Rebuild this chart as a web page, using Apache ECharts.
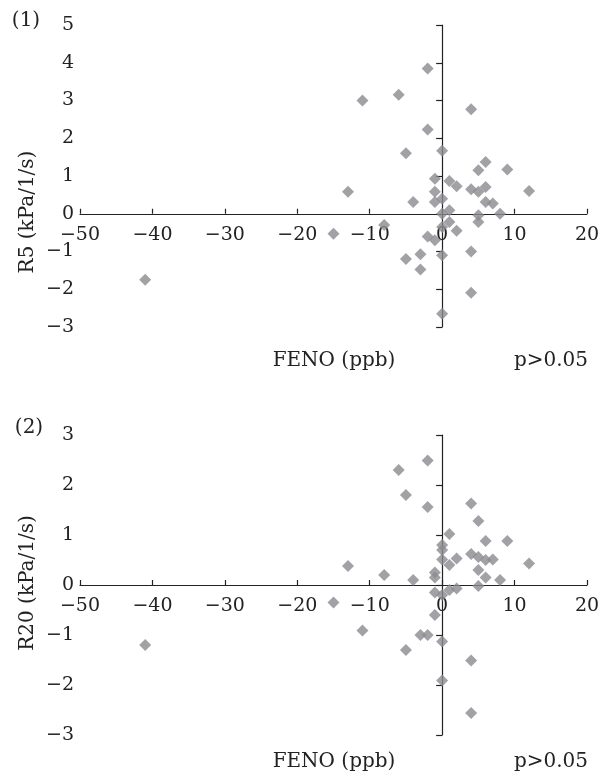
<!DOCTYPE html>
<html>
<head>
<meta charset="utf-8">
<script src="https://cdn.jsdelivr.net/npm/echarts@6/dist/echarts.min.js"></script>
<style>html,body{margin:0;padding:0;background:#fff}#c{width:608px;height:780px}</style>
</head>
<body>
<div id="c"></div>
<script>
// Panel (1): change in FENO vs change in R5
const r5X = [-11, -6, -2, 4, -2, -5, 0, 6, 5, 9, -1, 1, 2, -13, -1, 4, 5, 6, 12, -4, -1, 0, 6, 7, 0, 1, 1, 5, 5, 8, -8, -15, 2, -2, -1, 0, 4, -3, -5, 0, -3, 4, 0, -41];
const r5Y = [3.0, 3.15, 3.85, 2.77, 2.23, 1.6, 1.67, 1.37, 1.15, 1.17, 0.93, 0.87, 0.73, 0.58, 0.58, 0.65, 0.58, 0.71, 0.6, 0.31, 0.31, 0.4, 0.31, 0.27, 0.0, 0.09, -0.22, -0.04, -0.22, 0.0, -0.3, -0.53, -0.45, -0.6, -0.7, -0.35, -1.0, -1.07, -1.2, -1.1, -1.48, -2.09, -2.65, -1.75];
// Panel (2): change in FENO vs change in R20
const r20X = [-2, -6, -5, -2, 4, 5, 1, 6, 9, 0, 0, 0, 1, 2, 4, 5, 6, 7, 12, -13, -8, -4, -1, -1, 5, 6, 8, 5, -1, 0, 1, 2, -15, -1, -11, -3, -2, 0, -5, 4, 0, 4, -41];
const r20Y = [2.49, 2.3, 1.8, 1.56, 1.63, 1.28, 1.02, 0.88, 0.88, 0.8, 0.7, 0.51, 0.4, 0.53, 0.62, 0.56, 0.5, 0.51, 0.43, 0.38, 0.2, 0.1, 0.25, 0.15, 0.3, 0.15, 0.1, -0.02, -0.15, -0.2, -0.1, -0.07, -0.35, -0.6, -0.91, -1.0, -1.0, -1.13, -1.3, -1.51, -1.91, -2.56, -1.2];

const xRange = [-50, 20];
const r5Range = [-3, 5];
const r20Range = [-3, 3];
const xTitle = 'FENO (ppb)';
const r5Title = 'R5 (kPa/1/s)';
const r20Title = 'R20 (kPa/1/s)';
const pText = 'p>0.05';

const FONT = '"DejaVu Serif", "Liberation Serif", serif';
const INK = '#222';
const DOT = '#8b8b90';

// grid layout
const grids = [
  {left: 80, right: 21, top: 25, height: 302},
  {left: 80, right: 21, top: 435, height: 300}
];

function fmt(v){ return v < 0 ? '\u2212' + Math.abs(v) : String(v); }
function pairs(xs, ys){ return xs.map((x,i)=>[x, ys[i]]); }
// distance from the grid's bottom edge up to y = 0 (so the x axis sits on zero)
function zeroOffset(g, r){ return -g.height * (0 - r[0]) / (r[1] - r[0]); }

function xAx(gi, r){
  return {
    gridIndex: gi, type: 'value', min: xRange[0], max: xRange[1], interval: 10,
    position: 'bottom', offset: zeroOffset(grids[gi], r),
    axisLine: {onZero: false, lineStyle: {color: INK, width: 1.2}},
    axisTick: {inside: true, length: 5, lineStyle: {color: INK, width: 1.2}},
    axisLabel: {margin: 12, fontFamily: FONT, fontSize: 19, color: INK, formatter: fmt},
    splitLine: {show: false}
  };
}
function yAx(gi, r){
  return {
    gridIndex: gi, type: 'value', min: r[0], max: r[1], interval: 1,
    axisLine: {show: true, onZero: true, lineStyle: {color: INK, width: 1.2}},
    axisTick: {show: true, inside: false, length: 6, lineStyle: {color: INK, width: 1.2}},
    axisLabel: {margin: 6, fontFamily: FONT, fontSize: 19, color: INK, formatter: fmt},
    splitLine: {show: false}
  };
}
function txt(t, x, y, rot){
  return {type: 'text', x: x, y: y, rotation: rot || 0,
    style: {text: t, fill: INK, font: '20px ' + FONT, textAlign: 'center', textVerticalAlign: 'middle', align: 'center', verticalAlign: 'middle'}};
}

const chart = echarts.init(document.getElementById('c'), null, {renderer: 'canvas'});
chart.setOption({
  animation: false,
  backgroundColor: '#fff',
  grid: grids,
  xAxis: [xAx(0, r5Range), xAx(1, r20Range)],
  yAxis: [yAx(0, r5Range), yAx(1, r20Range)],
  series: [
    {type: 'scatter', xAxisIndex: 0, yAxisIndex: 0, symbol: 'diamond', symbolSize: 12,
     itemStyle: {color: DOT}, data: pairs(r5X, r5Y)},
    {type: 'scatter', xAxisIndex: 1, yAxisIndex: 1, symbol: 'diamond', symbolSize: 12,
     itemStyle: {color: DOT}, data: pairs(r20X, r20Y)}
  ],
  graphic: [
    txt('(1)', 26, 21),
    txt('(2)', 29, 428),
    txt(xTitle, 334, 361),
    txt(pText, 551, 361),
    txt(xTitle, 334, 762),
    txt(pText, 551, 762),
    txt(r5Title, 28, 212, Math.PI/2),
    txt(r20Title, 28, 583, Math.PI/2)
  ]
});
</script>
</body>
</html>
